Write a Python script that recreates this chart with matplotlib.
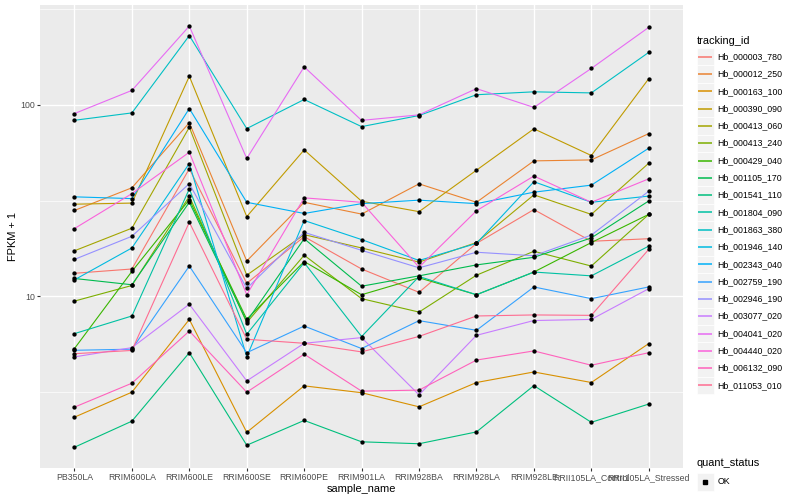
import numpy as np
import matplotlib
matplotlib.use("Agg")
import matplotlib.pyplot as plt
from matplotlib.patches import Rectangle

plt.rcParams['font.family'] = ['Liberation Sans', 'DejaVu Sans']

samples = ["PB350LA", "RRIM600LA", "RRIM600LE", "RRIM600SE", "RRIM600PE",
           "RRIM901LA", "RRIM928BA", "RRIM928LA", "RRIM928LE",
           "RRII105LA_Control", "RRII105LA_Stressed"]

tracking_ids = ["Hb_000003_780", "Hb_000012_250", "Hb_000163_100", "Hb_000390_090",
                "Hb_000413_060", "Hb_000413_240", "Hb_000429_040", "Hb_001105_170",
                "Hb_001541_110", "Hb_001804_090", "Hb_001863_380", "Hb_001946_140",
                "Hb_002343_040", "Hb_002759_190", "Hb_002946_190", "Hb_003077_020",
                "Hb_004041_020", "Hb_004440_020", "Hb_006132_090", "Hb_011053_010"]

# ggplot hue palette for 20 levels
colors = ["#F8766D", "#EA8331", "#D89000", "#C09B00", "#A3A500", "#7CAE00",
          "#39B600", "#00BB4E", "#00BF7D", "#00C1A3", "#00BFC4", "#00BAE0",
          "#00B0F6", "#35A2FF", "#9590FF", "#C77CFF", "#E76BF3", "#FA62DB",
          "#FF62BC", "#FF6C91"]

# FPKM + 1 per sample
hb_000003_780 = [13.2, 13.9, 46.4, 11.7, 20.5, 13.9, 10.5, 18.9, 28.4, 19.4, 20.0]
hb_000012_250 = [28.1, 36.9, 80.7, 15.3, 31.0, 26.9, 38.7, 31.0, 51.0, 51.6, 70.8]
hb_000163_100 = [2.34, 3.16, 7.58, 1.95, 3.41, 3.14, 2.65, 3.55, 4.03, 3.55, 5.67]
hb_000390_090 = [30.3, 30.7, 141, 26.1, 58.2, 31.4, 27.7, 45.6, 75.0, 54.4, 137]
hb_000413_060 = [17.3, 22.7, 76.4, 12.9, 21.0, 17.9, 15.1, 19.1, 33.9, 26.8, 49.6]
hb_000413_240 = [9.45, 11.4, 33.3, 7.3, 16.4, 9.73, 8.28, 12.9, 17.2, 14.4, 26.8]
hb_000429_040 = [5.34, 13.5, 32.0, 7.6, 15.2, 10.2, 12.5, 10.2, 13.4, 19.1, 26.8]
hb_001105_170 = [12.4, 11.5, 31.0, 7.4, 20.0, 11.3, 12.8, 14.6, 16.0, 20.2, 31.5]
hb_001541_110 = [1.63, 2.23, 5.08, 1.67, 2.25, 1.74, 1.70, 1.96, 3.42, 2.20, 2.74]
hb_001804_090 = [6.39, 7.9, 36.4, 6.34, 15.0, 6.17, 12.7, 10.2, 13.4, 12.8, 18.3]
hb_001863_380 = [83.1, 90.8, 230, 75.2, 106.7, 77.0, 88.0, 113, 117, 115.5, 188]
hb_001946_140 = [12.2, 17.9, 49.4, 4.83, 24.9, 19.8, 15.4, 18.9, 39.7, 31.0, 33.4]
hb_002343_040 = [33.1, 32.4, 95.7, 31.0, 27.1, 30.5, 31.8, 30.5, 35.0, 38.1, 59.4]
hb_002759_190 = [5.23, 5.3, 14.4, 5.08, 7.0, 5.34, 7.47, 6.65, 11.2, 9.73, 11.2]
hb_002946_190 = [15.6, 20.6, 38.8, 11.0, 21.6, 17.4, 14.1, 17.0, 16.3, 20.9, 35.4]
hb_003077_020 = [4.83, 5.4, 9.1, 3.62, 5.69, 6.09, 3.06, 6.26, 7.48, 7.58, 10.97]
hb_004041_020 = [90.1, 119, 258, 52.5, 158, 83.0, 88.7, 121.6, 97.0, 155, 254]
hb_004440_020 = [22.6, 34.4, 56.6, 10.2, 32.7, 31.0, 14.2, 28.0, 42.5, 31.0, 41.1]
hb_006132_090 = [2.64, 3.52, 6.59, 3.16, 4.99, 3.2, 3.24, 4.65, 5.19, 4.37, 5.08]
hb_011053_010 = [5.02, 5.22, 24.4, 5.97, 5.69, 5.13, 6.18, 7.9, 8.0, 7.96, 17.6]

series = [hb_000003_780, hb_000012_250, hb_000163_100, hb_000390_090, hb_000413_060,
          hb_000413_240, hb_000429_040, hb_001105_170, hb_001541_110, hb_001804_090,
          hb_001863_380, hb_001946_140, hb_002343_040, hb_002759_190, hb_002946_190,
          hb_003077_020, hb_004041_020, hb_004440_020, hb_006132_090, hb_011053_010]

fig = plt.figure(figsize=(8, 5), dpi=100)
ax = fig.add_axes([40 / 800, 1 - 468.3 / 500, (683.2 - 40) / 800, (468.3 - 5) / 500])
ax.set_facecolor("#EBEBEB")

for vals, col in zip(series, colors):
    ax.plot(samples, vals, color=col, lw=0.8, zorder=3)
for vals in series:
    ax.plot(samples, vals, ls="none", marker="o", ms=2.1, color="black", zorder=4)

ax.set_yscale("log")
allv = np.log10(np.concatenate([np.array(s) for s in series]))
span = allv.max() - allv.min()
ax.set_ylim(10 ** (allv.min() - 0.05 * span), 10 ** (allv.max() + 0.05 * span))
ax.set_xlim(-0.6, len(samples) - 0.4)

ax.set_yticks([10, 100])
ax.set_yticklabels(["10", "100"])
ax.set_yticks([10 ** 0.5, 10 ** 1.5, 10 ** 2.5], minor=True)
ax.yaxis.set_minor_formatter(plt.NullFormatter())
ax.grid(which="major", color="white", lw=1.0, zorder=0)
ax.grid(which="minor", axis="y", color="white", lw=0.5, zorder=0)
ax.set_axisbelow(True)
for s in ax.spines.values():
    s.set_visible(False)
ax.tick_params(which="major", length=2.0, width=0.8, color="#333333",
               labelsize=6.3, labelcolor="#4D4D4D", pad=1.6)
ax.tick_params(which="minor", length=0)

ax.set_xlabel("sample_name", fontsize=7.9, labelpad=1.5)
ax.set_ylabel("FPKM + 1", fontsize=7.9, labelpad=1.5)

# legend drawn in pixel coordinates
lg = fig.add_axes([0, 0, 1, 1], zorder=5)
lg.set_xlim(0, 800)
lg.set_ylim(500, 0)
lg.axis("off")

lg.text(696.7, 40.7, "tracking_id", fontsize=7.9, va="center", ha="left")
for i, (tid, col) in enumerate(zip(tracking_ids, colors)):
    yc = 56.7 + i * 17.3
    lg.add_patch(Rectangle((696.7, yc - 8.65), 17.3, 17.3, facecolor="#F2F2F2",
                           edgecolor="white", lw=0.5, zorder=1))
    lg.plot([698.4, 711.9], [yc, yc], color=col, lw=1.1, zorder=3,
            solid_capstyle="butt")
    lg.text(717.5, yc, tid, fontsize=6.3, va="center", ha="left")

lg.text(696.7, 463, "quant_status", fontsize=7.9, va="center", ha="left")
lg.add_patch(Rectangle((696.7, 482 - 8.65), 17.3, 17.3, facecolor="#F2F2F2",
                       edgecolor="white", lw=0.5, zorder=1))
lg.plot([705.3], [482], marker="s", ms=2.2, color="black", zorder=3)
lg.text(717.5, 482, "OK", fontsize=6.3, va="center", ha="left")

fig.savefig("out.png", dpi=100)
